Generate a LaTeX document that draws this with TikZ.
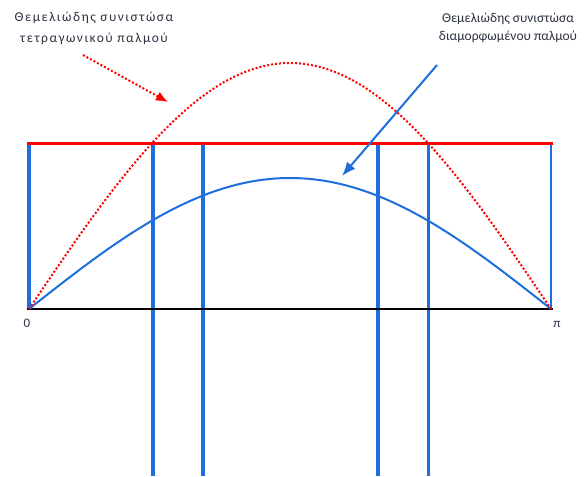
\documentclass[tikz,border=0pt]{standalone}
\usepackage{fontspec}
\setmainfont{Carlito}
\newfontfamily\widefont[LetterSpace=11]{Carlito}
\newfontfamily\midfont[LetterSpace=0]{Carlito}
\usetikzlibrary{arrows.meta}
\definecolor{myblue}{RGB}{30,110,220}
\definecolor{myred}{RGB}{255,0,0}
\definecolor{txt}{RGB}{45,50,65}
\begin{document}
\begin{tikzpicture}[x=1pt,y=-1pt,
  bar/.style={myblue,line width=4pt},
  lbl/.style={text=txt,align=center,inner sep=0pt},
  redcurve/.style={myred,line width=2pt,dash pattern=on 2pt off 2pt},
  bluecurve/.style={myblue,line width=2pt}]
\useasboundingbox (0,0) rectangle (585,476);
% verticals
\draw[bar] (29,143) -- (29,309);
\draw[bar] (153,143) -- (153,476);
\draw[bar] (203,143) -- (203,476);
\draw[bar] (378,143) -- (378,476);
\draw[myblue,line width=3pt] (428,143) -- (428,476);
\draw[myblue,line width=2.5pt] (551,143) -- (551,309);
% axes
\draw[black,line width=2.5pt] (27,309) -- (553,309);
\draw[myred,line width=3pt] (27,143) -- (553,143);
% curves
\draw[bluecurve] plot[domain=0:180,samples=90] ({29+2.9*\x},{309-131*sin(\x)});
\draw[redcurve] plot[domain=0:180,samples=90] ({29+2.9*\x},{309-246*sin(\x)});
% labels
\node[inner sep=0pt,text=txt,font=\fontsize{13}{15}\selectfont] (zero) at (27,323) {0};
\node[inner sep=0pt,text=txt,font=\fontsize{13}{15}\selectfont] (pi) at (557,324) {π};
\node[lbl,font=\widefont\fontsize{13.5}{21}\selectfont] (sq) at (94,28) {Θεμελιώδης συνιστώσα\\τετραγωνικού παλμού};
\node[lbl,font=\midfont\fontsize{13.5}{18}\selectfont] (mod) at (508,28) {Θεμελιώδης συνιστώσα\\διαμορφωμένου παλμού};
\coordinate (sqs) at (83,55);
\coordinate (sqe) at (168,102);
\coordinate (mods) at (437,65);
\coordinate (mode) at (342,176);
\draw[redcurve,-{Latex[length=12pt,width=10pt]}] (sqs) -- (sqe);
\draw[myblue,line width=2pt,-{Latex[length=14pt,width=11pt]}] (mods) -- (mode);
\end{tikzpicture}
\end{document}
